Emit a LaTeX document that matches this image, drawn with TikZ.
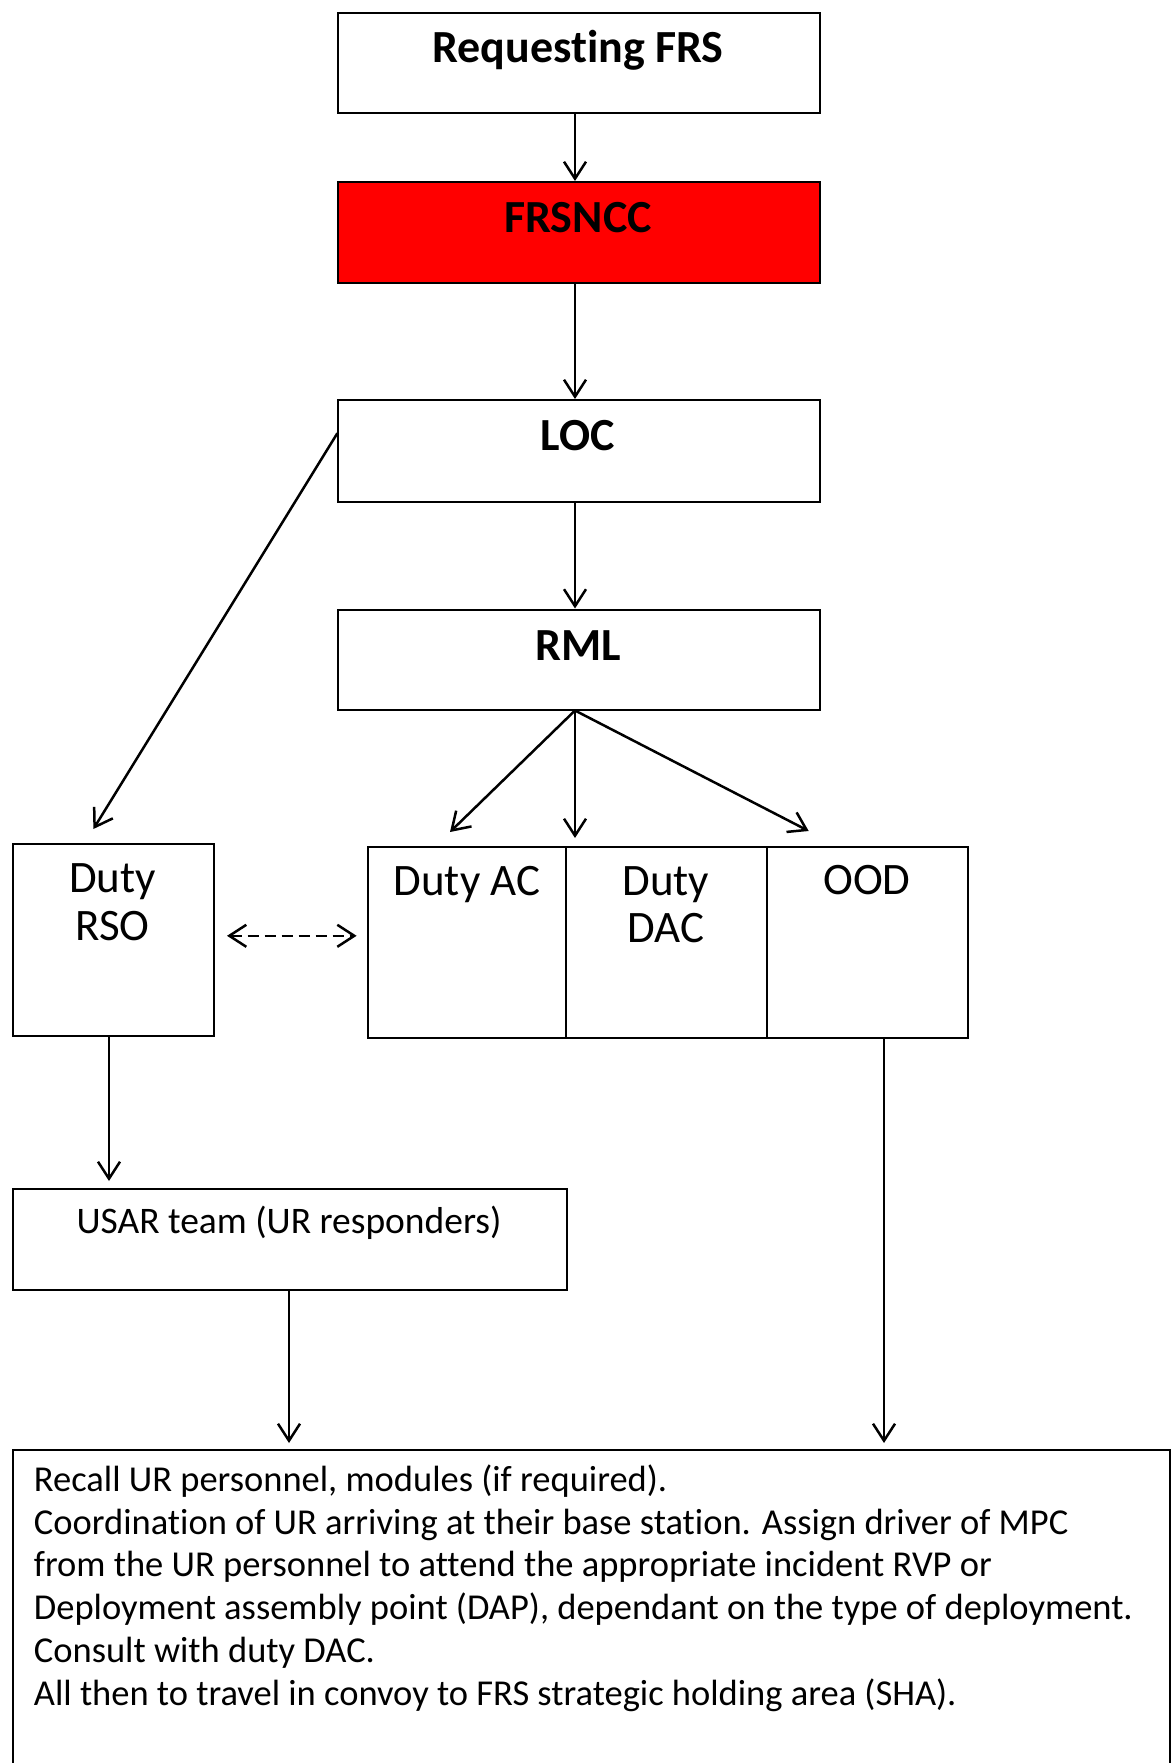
\documentclass[tikz,border=0pt]{standalone}
\usepackage{fontspec}
\setmainfont[Ligatures=NoCommon]{Carlito}
\usetikzlibrary{arrows.meta,calc}
\begin{document}
\begin{tikzpicture}[x=1pt,y=-1pt,
  box/.style={draw,line width=2pt,rectangle,inner sep=0pt,anchor=north west},
  lbl/.style={inner sep=0pt,anchor=base,font=\fontsize{45}{48}\selectfont},
  hdr/.style={inner sep=0pt,anchor=base,font=\fontsize{46}{48}\selectfont\bfseries},
  arr/.style={line width=2.5pt,-{Straight Barb[length=17pt,width=22pt]}},
  darr/.style={line width=2.5pt,dash pattern=on 11pt off 6pt,{Straight Barb[length=17pt,width=22pt]}-{Straight Barb[length=17pt,width=22pt]}},
]
\clip (0,0) rectangle (1172,1763);
\fill[white] (0,0) rectangle (1172,1763);
% boxes
\node[box,minimum width=481.5pt,minimum height=100pt] (req) at (337.4,12.4) {};
\node[box,fill=red,minimum width=481.5pt,minimum height=101pt] (frs) at (337.4,181) {};
\node[box,minimum width=481.5pt,minimum height=101.5pt] (loc) at (337.4,399) {};
\node[box,minimum width=481.5pt,minimum height=100pt] (rml) at (337.4,608.5) {};
\node[box,minimum width=200.2pt,minimum height=192.3pt] (rso) at (12.4,842.5) {};
\node[box,minimum width=197.9pt,minimum height=191.2pt] (ac) at (366.7,845.8) {};
\node[box,minimum width=201.4pt,minimum height=191.2pt] (dac) at (564.6,845.8) {};
\node[box,minimum width=201.3pt,minimum height=191.2pt] (ood) at (766,845.8) {};
\node[box,minimum width=553.4pt,minimum height=101.2pt] (usar) at (12.4,1187.8) {};
\node[box,minimum width=1156.2pt,minimum height=400pt] (act) at (12.4,1448.8) {};
% texts
\node[hdr] (treq) at (578,63) {Requesting FRS};
\node[hdr] (tfrs) at (578,233) {FRSNCC};
\node[hdr] (tloc) at (578,450) {LOC};
\node[hdr] (trml) at (578,660) {RML};
\node[lbl] (trso1) at (112.5,892) {Duty};
\node[lbl] (trso2) at (112.5,940) {RSO};
\node[lbl] (tac) at (467,895) {Duty AC};
\node[lbl] (tdac1) at (666,895) {Duty};
\node[lbl] (tdac2) at (666,942.7) {DAC};
\node[lbl] (tood) at (867,894) {OOD};
\node[inner sep=0pt,anchor=base,font=\fontsize{37.5}{42}\selectfont] (tusar) at (289,1233) {USAR team (UR responders)};
\node[inner sep=0pt,anchor=base west,align=left,font=\fontsize{36.5}{42.7}\selectfont] (tact) at (33.7,1705)
 {Recall UR personnel, modules (if required).\\
  Coordination of UR arriving at their base station. Assign driver of MPC\\
  from the UR personnel to attend the appropriate incident RVP or\\
  Deployment assembly point (DAP), dependant on the type of deployment.\\
  Consult with duty DAC.\\
  All then to travel in convoy to FRS strategic holding area (SHA).};
% coordinates
\coordinate (locL) at ($(loc.north west)!0.33!(loc.south west)$);
\coordinate (rsoIn) at (93.4,829);
\coordinate (rmlS) at (575,0 |- rml.south);
\coordinate (acIn) at (450,832);
\coordinate (dacIn) at (575,838);
\coordinate (oodIn) at (808.7,831);
% connectors
\draw[arr] (575,0 |- req.south) -- (575,0 |- frs.north);
\draw[arr] (575,0 |- frs.south) -- (575,0 |- loc.north);
\draw[arr] (575,0 |- loc.south) -- (575,0 |- rml.north);
\draw[arr] (locL) -- (rsoIn);
\draw[arr] (rmlS) -- (acIn);
\draw[arr] (rmlS) -- (dacIn);
\draw[arr] (rmlS) -- (oodIn);
\draw[darr] (227,935.8) -- (356.6,935.8);
\draw[arr] (109,0 |- rso.south) -- (109,1181);
\draw[arr] (289,0 |- usar.south) -- (289,1443);
\draw[arr] (884,0 |- ood.south) -- (884,1443);
\end{tikzpicture}
\end{document}
